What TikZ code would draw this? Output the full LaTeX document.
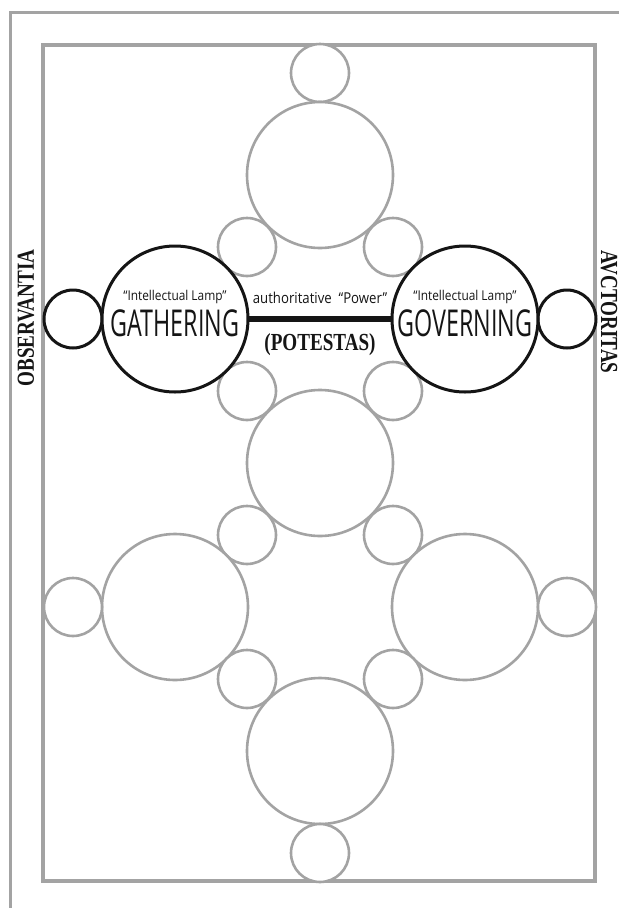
\documentclass[tikz,border=0pt]{standalone}
\usepackage{fontspec}
\setmainfont{Open Sans}
\newfontfamily\condsans[FakeStretch=0.63]{Open Sans}
\newfontfamily\lampsans[FakeStretch=0.88]{Open Sans}
\newfontfamily\condserif[FakeStretch=0.78]{Liberation Serif}
\definecolor{ringgray}{HTML}{A3A3A3}
\definecolor{inkblack}{HTML}{151515}
\tikzset{
  frameline/.style={draw=ringgray, line width=3pt},
  bigring/.style={circle, draw=ringgray, line width=2.6pt, fill=white, minimum size=146pt, inner sep=0pt, outer sep=0pt},
  smallring/.style={circle, draw=ringgray, line width=2.6pt, fill=white, minimum size=58pt, inner sep=0pt, outer sep=0pt},
  bigblack/.style={circle, draw=inkblack, line width=3pt, fill=white, minimum size=146pt, inner sep=0pt, outer sep=0pt},
  smallblack/.style={circle, draw=inkblack, line width=3pt, fill=white, minimum size=58pt, inner sep=0pt, outer sep=0pt},
  potestas/.style={draw=inkblack, line width=6pt},
  lamptext/.style={font=\lampsans\fontsize{13.5}{14}\selectfont, text=inkblack, inner sep=0pt},
  bigword/.style={font=\condsans\fontsize{37}{38}\selectfont, text=inkblack, inner sep=0pt},
  powertext/.style={font=\lampsans\fontsize{15}{16}\selectfont, text=inkblack, inner sep=0pt},
  latinword/.style={font=\condserif\bfseries\fontsize{24.5}{25}\selectfont, text=inkblack, inner sep=0pt}
}
\begin{document}
\begin{tikzpicture}[x=1pt,y=-1pt]
\useasboundingbox[fill=white] (0,0) rectangle (619,908);
% outer frame (only top and left visible)
\coordinate (ofTR) at (619,12);
\coordinate (ofTL) at (10,12);
\coordinate (ofBL) at (10,908);
\draw[frameline] (ofTR) -- (ofTL) -- (ofBL);
% inner frame
\coordinate (ifTL) at (43,45);
\coordinate (ifBR) at (595,881);
\draw[frameline, line width=3.4pt] (ifTL) rectangle (ifBR);

% gray rings: column
\node[smallring] (topS) at (320,73) {};
\node[bigring] (topL) at (320,175) {};
\node[smallring] (r1l) at (247,247) {};
\node[smallring] (r1r) at (393,247) {};
\node[smallring] (r3l) at (247,391) {};
\node[smallring] (r3r) at (393,391) {};
\node[bigring] (midL) at (320,463) {};
\node[smallring] (r5l) at (247,535) {};
\node[smallring] (r5r) at (393,535) {};
\node[bigring] (leftL) at (175,607) {};
\node[bigring] (rightL) at (465,607) {};
\node[smallring] (farL) at (73,607) {};
\node[smallring] (farR) at (567,607) {};
\node[smallring] (r7l) at (247,679) {};
\node[smallring] (r7r) at (393,679) {};
\node[bigring] (botL) at (320,751) {};
\node[smallring] (botS) at (320,853) {};

% black rings
\node[smallblack] (obsC) at (73,319) {};
\node[smallblack] (auctC) at (567,319) {};
\node[bigblack] (gath) at (175,319) {};
\node[bigblack] (gov) at (465,319) {};
\draw[potestas] (gath) -- (gov);

% texts
\node[lamptext] (gathLamp) at (175,297) {“Intellectual Lamp”};
\node[bigword] (gathWord) at (175,323) {GATHERING};
\node[lamptext] (govLamp) at (465,297) {“Intellectual Lamp”};
\node[bigword] (govWord) at (465,323) {GOVERNING};
\node[powertext] (power) at (320,298) {authoritative\ \ “Power”};
\node[latinword] (potest) at (320,345) {(POTESTAS)};
\node[latinword, rotate=90] (observ) at (26,318) {OBSERVANTIA};
\node[latinword, rotate=-90] (auctor) at (609,312) {AVCTORITAS};
\end{tikzpicture}
\end{document}
